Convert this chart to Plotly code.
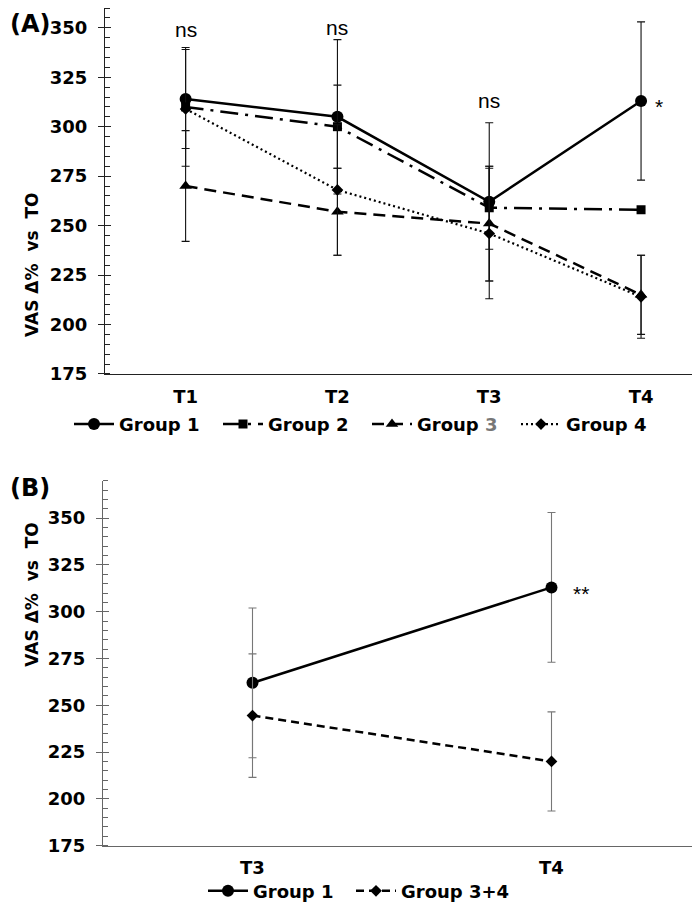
import plotly.graph_objects as go

# ---------------- data ----------------
times_a = ["T1", "T2", "T3", "T4"]
g1_a = [314, 305, 262, 313]
g1_a_err = [25, 39, 40, 40]
g2_a = [310, 300, 259, 258]
g2_a_err = [30, 21, 21, 0]
g3_a = [270, 257, 251, 215]
g3_a_err = [28, 22, 29, 20]
g4_a = [309, 268, 246, 214]
g4_a_err = [0, 33, 33, 21]
sig_a = ["ns", "ns", "ns", "*"]

times_b = ["T3", "T4"]
g1_b = [262, 313]
g1_b_err = [40, 40]
g34_b = [244.5, 220]
g34_b_err = [33, 26.5]
sig_b = ["", "**"]

legend_a = ["Group 1", "Group 2", "Group <span style='color:#777777'>3</span>", "Group 4"]
legend_b = ["Group 1", "Group 3+4"]

W, H = 700, 907
FONT = "DejaVu Sans, Liberation Sans, sans-serif"
NFONT = "Liberation Sans, sans-serif"
BLACK = "#000000"

fig = go.Figure()

def add_series(x, y, err, name, dash, symbol, msize, xa, ya, leg, ecolor, lw=2.5):
    fig.add_trace(go.Scatter(
        x=x, y=y, name=name, mode="lines+markers",
        line=dict(color=BLACK, width=lw, dash=dash),
        marker=dict(symbol=symbol, size=msize, color=BLACK),
        error_y=dict(type="data", array=err, visible=True, color=ecolor, thickness=1.1, width=4),
        xaxis=xa, yaxis=ya, legend=leg,
    ))

# Panel A
add_series(times_a, g1_a, g1_a_err, legend_a[0], "solid", "circle", 12, "x", "y", "legend", "#111111")
add_series(times_a, g2_a, g2_a_err, legend_a[1], "18px,7px,3px,7px", "square", 9, "x", "y", "legend", "#111111")
add_series(times_a, g3_a, g3_a_err, legend_a[2], "12px,7px", "triangle-up", 11, "x", "y", "legend", "#111111")
add_series(times_a, g4_a, g4_a_err, legend_a[3], "2px,3px", "diamond", 9, "x", "y", "legend", "#111111", lw=2.2)

# Panel B
add_series(times_b, g1_b, g1_b_err, legend_b[0], "solid", "circle", 12, "x2", "y2", "legend2", "#777777")
add_series(times_b, g34_b, g34_b_err, legend_b[1], "8px,5px", "diamond", 9, "x2", "y2", "legend3", "#777777")

# dummy traces for overlay tick axes
fig.add_trace(go.Scatter(x=[None], y=[None], xaxis="x", yaxis="y3", showlegend=False, hoverinfo="skip"))
fig.add_trace(go.Scatter(x=[None], y=[None], xaxis="x2", yaxis="y4", showlegend=False, hoverinfo="skip"))

tickfont = dict(family=FONT, size=18, color=BLACK, weight="bold")

def yax(domain, rng, color, **kw):
    d = dict(domain=domain, range=rng, dtick=25, tick0=0,
             showline=True, linecolor=color, linewidth=1.3,
             ticks="outside", ticklen=6, tickwidth=1.3, tickcolor=color,
             minor=dict(ticks="inside", ticklen=5, dtick=5, tickwidth=1.1, tickcolor=color, showgrid=False),
             showgrid=False, zeroline=False, tickfont=tickfont, ticklabelstandoff=7)
    d.update(kw)
    return d

def yover(rng, color, overlay, anchor):
    return dict(overlaying=overlay, anchor=anchor, side="left", range=rng, dtick=25, tick0=0,
                showline=False, ticks="inside", ticklen=6, tickwidth=1.3, tickcolor=color,
                showticklabels=False, showgrid=False, zeroline=False)

ya_dom = [1 - 370 / H, 1.0]
yb_dom = [1 - 847 / H, 1 - 478 / H]
ya_rng = [175, 360]
yb_rng = [175, 370]

legfont = dict(family=FONT, size=18, color=BLACK, weight="bold")

def leg(xpx, ypx, ew):
    return dict(orientation="h", x=xpx / W, xanchor="left", y=1 - ypx / H, yanchor="middle",
                font=legfont, bgcolor="rgba(0,0,0,0)", itemwidth=40, tracegroupgap=0,
                entrywidth=ew, entrywidthmode="pixels")

fig.update_layout(
    width=W, height=H,
    margin=dict(l=0, r=0, t=0, b=0),
    paper_bgcolor="white", plot_bgcolor="white",
    showlegend=True,
    xaxis=dict(domain=[97 / W, 1.0], anchor="y", type="category", range=[-0.531, 3.441],
               showline=True, linecolor="#222222", linewidth=1.3, ticks="", showgrid=False,
               tickfont=tickfont, ticklabelstandoff=6),
    yaxis=yax(ya_dom, ya_rng, "#222222", anchor="x"),
    yaxis3=yover(ya_rng, "#222222", "y", "x"),
    xaxis2=dict(domain=[95 / W, 693 / W], anchor="y2", type="category", range=[-0.5, 1.5],
                showline=True, linecolor="#666666", linewidth=1.3, ticks="", showgrid=False,
                tickfont=tickfont, ticklabelstandoff=6),
    yaxis2=yax(yb_dom, yb_rng, "#666666", anchor="x2"),
    yaxis4=yover(yb_rng, "#666666", "y2", "x2"),
    legend=leg(61, 421, 94),
    legend2=leg(195, 893, 0),
    legend3=leg(343, 893, 0),
)

ann = []
titlefont = dict(family=FONT, size=17, color=BLACK, weight="bold")
# axis titles
ann.append(dict(text="VAS Δ%  vs  TO", x=12 / W, y=1 - 185 / H, xref="paper", yref="paper",
                textangle=-90, showarrow=False, font=titlefont))
ann.append(dict(text="VAS Δ%  vs  TO", x=12 / W, y=1 - 668 / H, xref="paper", yref="paper",
                textangle=-90, showarrow=False, font=titlefont))
# panel labels
ann.append(dict(text="(A)", x=0, y=1.0, xref="paper", yref="paper", xanchor="left", yanchor="top",
                showarrow=False, font=dict(family=FONT, size=24, color=BLACK, weight="bold")))
ann.append(dict(text="(B)", x=0, y=1 - 469 / H, xref="paper", yref="paper", xanchor="left", yanchor="top",
                showarrow=False, font=dict(family=FONT, size=24, color=BLACK, weight="bold")))
# significance labels panel A
sig_pos_a = [(0, 349), (1, 350), (2, 313), (3.08, 310)]
for s, (xx, yy) in zip(sig_a, sig_pos_a):
    ann.append(dict(text=s, x=xx, y=yy, xref="x", yref="y", showarrow=False,
                    xanchor="center" if s == "ns" else "left",
                    font=dict(family=NFONT, size=21, color=BLACK)))
# significance panel B
ann.append(dict(text=sig_b[1], x=1.065, y=310, xref="x2", yref="y2", showarrow=False, xanchor="left",
                font=dict(family=NFONT, size=21, color=BLACK)))
fig.update_layout(annotations=ann)

fig.write_html("out.html")
